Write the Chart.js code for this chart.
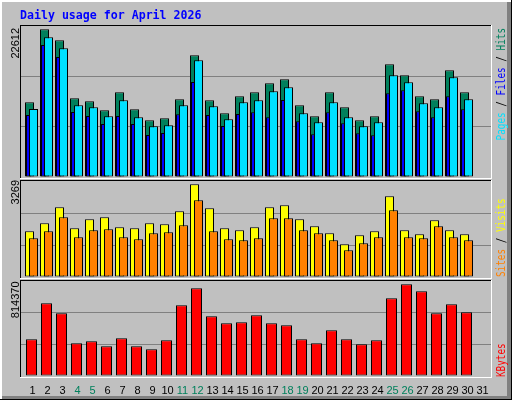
<!DOCTYPE html>
<html>
<head>
<meta charset="utf-8">
<script src="https://cdn.jsdelivr.net/npm/chart.js@4.4.1/dist/chart.umd.min.js"></script>
<style>
html, body { margin: 0; padding: 0; background: #fff; }
#wrap { position: relative; width: 512px; height: 400px; background: #c0c0c0; overflow: hidden; }
#wrap canvas { position: absolute; left: 0; top: 0; }
</style>
</head>
<body>
<div id="wrap">
    <canvas id="hitsGraph" width="512" height="400"></canvas>
    <canvas id="visitsGraph" width="512" height="400"></canvas>
    <canvas id="kbytesGraph" width="512" height="400"></canvas>
</div>
<script>
const chartTitle = 'Daily usage for April 2026';
const days = ['1', '2', '3', '4', '5', '6', '7', '8', '9', '10', '11', '12', '13', '14', '15', '16',
    '17', '18', '19', '20', '21', '22', '23', '24', '25', '26', '27', '28', '29', '30', '31'];
const weekendDays = ['4', '5', '11', '12', '18', '19', '25', '26'];

const hits = [11437, 22612, 20929, 12049, 11590, 10212, 12968, 10365, 8681, 8987, 11896, 18632, 11743, 9752, 12355,
    12968, 14345, 14958, 10977, 9293, 12968, 10671, 8681, 9293, 17254, 15570, 12355, 11896, 16336, 12968];
const pages = [10411, 21388, 19704, 10977, 10671, 9293, 11743, 9140, 7762, 7915, 10977, 17867, 10824, 8834, 11437,
    11743, 13121, 13733, 9752, 8375, 11437, 9140, 7762, 8375, 15570, 14498, 11283, 10671, 15264, 11896];
const files = [9492, 20209, 18372, 9952, 9339, 8114, 9339, 8114, 6430, 6736, 9599, 14545, 9492, 7808, 9645,
    9906, 9140, 11789, 8528, 6537, 9906, 8221, 6690, 6384, 12814, 13274, 10059, 9140, 12355, 10365];

const visits = [1611, 1893, 2458, 1717, 2034, 2105, 1752, 1717, 1893, 1858, 2317, 3269, 2422, 1717, 1647,
    1752, 2458, 2528, 2034, 1788, 1541, 1153, 1470, 1611, 2845, 1647, 1506, 1999, 1647, 1506];
const sites = [1365, 1611, 2105, 1400, 1647, 1682, 1400, 1329, 1541, 1576, 1823, 2704, 1611, 1329, 1294,
    1365, 2070, 2070, 1647, 1541, 1294, 941, 1188, 1400, 2352, 1400, 1365, 1788, 1400, 1294];

const kbytes = [325930, 645650, 556840, 290410, 308170, 263770, 334810, 263770, 237120, 317050, 627890, 778860, 530200, 468030, 476910,
    539080, 468030, 450270, 325930, 290410, 405860, 325930, 281530, 317050, 690050, 814370, 752220, 556840, 636770, 565720];

const HIT_COLOR = '#00805c';
const FILE_COLOR = '#0000ff';
const PAGE_COLOR = '#00e0ff';
const VISIT_COLOR = '#ffff00';
const SITE_COLOR = '#ff8000';
const KBYTE_COLOR = '#ff0000';

// day n is centred at 32.5 + 15*(n-1) px, plot spans x 21..491
const X_MIN = 1 + (21 - 32.5) / 15;
const X_MAX = 1 + (491 - 32.5) / 15;

const LABEL_FONT = '11px "Liberation Sans"';
const SIDE_FONT = '11.4px "DejaVu Sans Mono"';

// text reading bottom-to-top, baseline at x; squeeze narrows it along its length
function drawUp(ctx, x, y, parts, font, anchorTop, squeeze) {
    ctx.save();
    ctx.font = font;
    ctx.textBaseline = 'alphabetic';
    ctx.translate(x, y);
    ctx.rotate(-Math.PI / 2);
    ctx.scale(squeeze, 1);
    const total = parts.reduce((sum, p) => sum + ctx.measureText(p.text).width, 0);
    let pos = anchorTop ? -total : 0;
    parts.forEach(p => {
        ctx.fillStyle = p.color;
        ctx.fillText(p.text, pos, 0);
        pos += ctx.measureText(p.text).width;
    });
    ctx.restore();
}

function barSet(label, values, color, offset, thickness, order) {
    return {
        label: label,
        data: values.map((v, i) => ({ x: i + 1 + offset, y: v })),
        backgroundColor: color,
        borderColor: '#000',
        borderWidth: 1,
        borderSkipped: false,
        inflateAmount: 0,
        barThickness: thickness,
        grouped: false,
        order: order
    };
}

function renderPanel(canvasId, panel) {
    const ctx = document.getElementById(canvasId).getContext('2d');
    const top = panel.top;
    const bottom = panel.bottom;
    const axisHeight = panel.showDays ? 400 - bottom : 0;

    const decor = {
        id: 'decor',
        beforeDraw(chart) {
            if (!panel.drawPage) return;
            const c = chart.ctx;
            c.save();
            c.fillStyle = '#ffffff';
            c.fillRect(0, 0, 512, 2);
            c.fillRect(0, 0, 2, 400);
            c.fillStyle = '#808080';
            c.fillRect(507, 2, 5, 398);
            c.fillRect(2, 396, 510, 4);
            c.fillStyle = '#000000';
            c.fillRect(511, 0, 1, 400);
            c.fillRect(0, 399, 512, 1);
            c.font = 'bold 11.6px "DejaVu Sans Mono"';
            c.fillStyle = '#0000ff';
            c.textBaseline = 'alphabetic';
            c.fillText(chartTitle, 20, 19);
            c.restore();
        },
        afterDraw(chart) {
            const c = chart.ctx;
            c.save();
            c.fillStyle = '#000000';
            c.fillRect(20, top - 1, 472, 1);
            c.fillRect(20, top - 1, 1, bottom - top + 2);
            c.fillStyle = '#ffffff';
            c.fillRect(20, bottom + 1, 472, 1);
            c.fillRect(491, top - 1, 1, bottom - top + 3);
            c.restore();
            drawUp(c, 19.3, panel.maxLabelTop, [{ text: String(panel.maxValue), color: '#000' }], LABEL_FONT, true, 1);
            drawUp(c, 504.5, panel.sideY, panel.sideParts, SIDE_FONT, panel.sideAnchorTop, 0.82);
        }
    };

    const yMax = panel.yMax;

    new Chart(ctx, {
        type: 'bar',
        data: { datasets: panel.datasets },
        options: {
            responsive: false,
            animation: false,
            devicePixelRatio: 1,
            layout: { padding: { left: 21, right: 512 - 491, top: top, bottom: 400 - bottom - axisHeight } },
            plugins: { legend: { display: false }, tooltip: { enabled: false }, title: { display: false } },
            scales: {
                x: {
                    type: 'linear',
                    min: X_MIN,
                    max: X_MAX,
                    offset: false,
                    grid: { display: false, drawTicks: false, offset: false },
                    border: { display: false },
                    afterBuildTicks: s => { s.ticks = days.map(d => ({ value: Number(d) })); },
                    afterFit: s => { s.height = axisHeight; },
                    ticks: {
                        display: !!panel.showDays,
                        autoSkip: false,
                        maxRotation: 0,
                        padding: 8,
                        font: { family: 'Liberation Sans', size: 11 },
                        color: c => weekendDays.includes(String(c.tick.value)) ? HIT_COLOR : '#000',
                        callback: v => String(v)
                    }
                },
                y: {
                    min: 0,
                    max: yMax,
                    border: { display: false },
                    afterBuildTicks: s => { s.ticks = [0, 1, 2, 3].map(i => ({ value: yMax * i / 3 })); },
                    afterFit: s => { s.width = 0; },
                    ticks: { display: false },
                    grid: {
                        drawTicks: false,
                        lineWidth: 1,
                        color: c => (c.index === 1 || c.index === 2) ? '#808080' : 'rgba(0,0,0,0)'
                    }
                }
            }
        },
        plugins: [decor]
    });
}

const maxHits = Math.max(...hits);
const maxVisits = Math.max(...visits);
const maxKbytes = Math.max(...kbytes);

renderPanel('hitsGraph', {
    drawPage: true,
    top: 26,
    bottom: 177,
    yMax: maxHits * 151 / 147.7,
    maxValue: maxHits,
    maxLabelTop: 28,
    sideY: 28,
    sideAnchorTop: true,
    sideParts: [
        { text: 'Pages', color: PAGE_COLOR },
        { text: ' / ', color: '#000' },
        { text: 'Files', color: FILE_COLOR },
        { text: ' / ', color: '#000' },
        { text: 'Hits', color: HIT_COLOR }
    ],
    datasets: [
        barSet('Pages', pages, PAGE_COLOR, 1 / 15, 9, 1),
        barSet('Files', files, FILE_COLOR, -4 / 15, 5, 2),
        barSet('Hits', hits, HIT_COLOR, -3 / 15, 9, 3)
    ]
});

renderPanel('visitsGraph', {
    top: 181,
    bottom: 277,
    yMax: maxVisits * 96 / 92.7,
    maxValue: maxVisits,
    maxLabelTop: 180,
    sideY: 277,
    sideAnchorTop: false,
    sideParts: [
        { text: 'Sites', color: SITE_COLOR },
        { text: ' / ', color: '#000' },
        { text: 'Visits', color: VISIT_COLOR }
    ],
    datasets: [
        barSet('Sites', sites, SITE_COLOR, 1 / 15, 9, 1),
        barSet('Visits', visits, VISIT_COLOR, -3 / 15, 9, 2)
    ]
});

renderPanel('kbytesGraph', {
    top: 281,
    bottom: 376,
    yMax: maxKbytes * 95 / 91.7,
    maxValue: maxKbytes,
    maxLabelTop: 281.5,
    sideY: 377,
    sideAnchorTop: false,
    showDays: true,
    sideParts: [{ text: 'KBytes', color: KBYTE_COLOR }],
    datasets: [
        barSet('KBytes', kbytes, KBYTE_COLOR, -1 / 15, 11, 1)
    ]
});
</script>
</body>
</html>
